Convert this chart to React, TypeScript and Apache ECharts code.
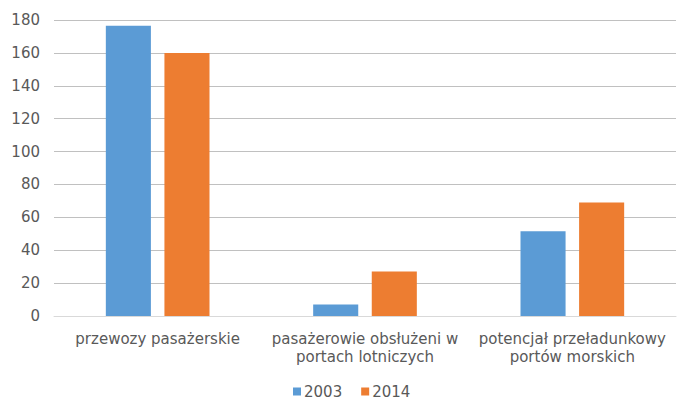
import React, { useEffect, useRef } from "react";
import * as echarts from "echarts";

const categories = [
  "przewozy pasażerskie",
  "pasażerowie obsłużeni w\nportach lotniczych",
  "potencjał przeładunkowy\nportów morskich",
];
const seriesNames = ["2003", "2014"];
const values2003 = [176.5, 7, 51.5];
const values2014 = [160, 27, 69];
const colors = ["#5B9BD5", "#ED7D31"];

export default function App() {
  const ref = useRef<HTMLDivElement>(null);
  useEffect(() => {
    if (!ref.current) return;
    const chart = echarts.init(ref.current, undefined, { renderer: "svg" });
    const font = "DejaVu Sans, Verdana, sans-serif";
    chart.setOption({
      animation: false,
      color: colors,
      textStyle: { fontFamily: font },
      grid: { left: 54, right: 1, top: 20, bottom: 83 },
      legend: {
        top: 384,
        left: 293,
        itemWidth: 8,
        itemHeight: 8,
        itemGap: 19,
        icon: "rect",
        padding: 0,
        textStyle: { color: "#595959", fontSize: 15, fontFamily: font, padding: [0, 0, 0, -2] },
        data: seriesNames,
      },
      xAxis: {
        type: "category",
        data: categories,
        axisTick: { show: false },
        axisLine: { lineStyle: { color: "#d9d9d9" } },
        axisLabel: {
          color: "#595959",
          fontSize: 15,
          fontFamily: font,
          margin: 14,
          lineHeight: 18,
          interval: 0,
        },
      },
      yAxis: {
        type: "value",
        min: 0,
        max: 180,
        interval: 20,
        axisLine: { show: false },
        axisTick: { show: false },
        splitLine: { lineStyle: { color: "#c0c0c0" } },
        axisLabel: { color: "#595959", fontSize: 15, fontFamily: font, margin: 14 },
      },
      series: [
        {
          name: seriesNames[0],
          type: "bar",
          data: values2003,
          barGap: "30%",
          barCategoryGap: "50%",
        },
        {
          name: seriesNames[1],
          type: "bar",
          data: values2014,
          barGap: "30%",
          barCategoryGap: "50%",
        },
      ],
    });
    return () => chart.dispose();
  }, []);
  return (
    <div
      ref={ref}
      style={{ position: "fixed", left: 0, top: 0, width: 677, height: 399, background: "#fff" }}
    />
  );
}
